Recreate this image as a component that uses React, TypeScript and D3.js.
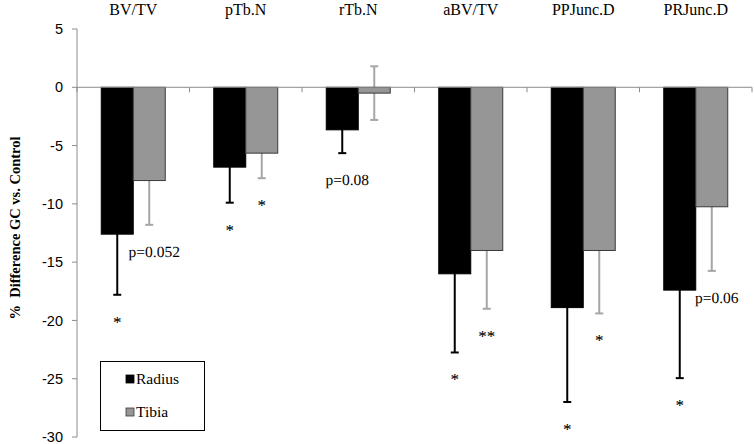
import React from "react";
import * as d3 from "d3";

const categories = ["BV/TV", "pTb.N", "rTb.N", "aBV/TV", "PPJunc.D", "PRJunc.D"];
const seriesNames = ["Radius", "Tibia"];
const radiusValues = [-12.6, -6.85, -3.65, -16.0, -18.9, -17.4];
const radiusErrors = [5.2, 3.05, 2.0, 6.75, 8.1, 7.55];
const tibiaValues = [-8.0, -5.65, -0.5, -14.0, -14.0, -10.25];
const tibiaErrors = [3.8, 2.15, 2.3, 5.0, 5.4, 5.5];
const yTicks = [5, 0, -5, -10, -15, -20, -25, -30];
// annotations: [category index, series index, label]
const annotCategory = [0, 0, 1, 1, 2, 3, 3, 4, 4, 5, 5];
const annotSeries = [0, 1, 0, 1, 0, 0, 1, 0, 1, 0, 1];
const annotLabels = ["*", "p=0.052", "*", "*", "p=0.08", "*", "**", "*", "*", "*", "p=0.06"];

const W = 754;
const H = 444;
const left = 77;
const right = 752;
const top = 29;
const bottom = 437;

export default function App() {
  const y = d3.scaleLinear().domain([5, -30]).range([top, bottom]);
  const x = d3.scaleBand<string>().domain(categories).range([left, right]).paddingInner(0).paddingOuter(0);
  const inner = d3
    .scaleBand<string>()
    .domain(seriesNames)
    .range([0, x.bandwidth()])
    .paddingInner(0)
    .paddingOuter(0.758);
  const values = [radiusValues, tibiaValues];
  const errors = [radiusErrors, tibiaErrors];
  const fills = ["#000000", "#969696"];
  const strokes = ["#000000", "#3a3a3a"];
  const errColors = ["#000000", "#a6a6a6"];
  const axisColor = "#8c8c8c";
  const serif = "'Liberation Serif', 'Times New Roman', serif";
  const sans = "'Liberation Sans', Arial, sans-serif";
  const bw = inner.bandwidth();
  const boundaries = d3.range(categories.length + 1).map((i) => left + i * x.step());

  return (
    <svg width={W} height={H} style={{ position: "absolute", left: 0, top: 0, background: "#fff" }}>
      {/* y axis */}
      <line x1={left} x2={left} y1={top} y2={bottom} stroke={axisColor} strokeWidth={1} />
      {yTicks.map((t) => (
        <g key={t}>
          <line x1={left - 5} x2={left} y1={y(t)} y2={y(t)} stroke={axisColor} />
          <text x={63} y={y(t)} dy="0.35em" textAnchor="end" fontFamily={sans} fontSize={14.5} fill="#000">
            {t}
          </text>
        </g>
      ))}
      <text
        transform={`translate(20,228) rotate(-90)`}
        textAnchor="middle"
        fontFamily={serif}
        fontWeight="bold"
        fontSize={14.5}
        fill="#000"
      >
        % &#160;Difference GC vs. Control
      </text>
      {/* category labels */}
      {categories.map((c) => (
        <text
          key={c}
          x={(x(c) as number) + x.bandwidth() / 2}
          y={15}
          textAnchor="middle"
          fontFamily={serif}
          fontSize={16}
          fill="#000"
        >
          {c}
        </text>
      ))}
      {/* error bars (behind bars) */}
      {seriesNames.map((s, si) =>
        categories.map((c, ci) => {
          const cx = (x(c) as number) + (inner(s) as number) + bw / 2;
          const v = values[si][ci];
          const e = errors[si][ci];
          const y1 = y(v + e);
          const y2 = y(v - e);
          return (
            <g key={s + c} stroke={errColors[si]} strokeWidth={2}>
              <line x1={cx} x2={cx} y1={y1} y2={y2} />
              <line x1={cx - 4} x2={cx + 4} y1={y1} y2={y1} />
              <line x1={cx - 4} x2={cx + 4} y1={y2} y2={y2} />
            </g>
          );
        })
      )}
      {/* bars */}
      {seriesNames.map((s, si) =>
        categories.map((c, ci) => {
          const bx = (x(c) as number) + (inner(s) as number);
          const v = values[si][ci];
          return (
            <rect
              key={"b" + s + c}
              x={bx}
              y={y(0)}
              width={bw}
              height={y(v) - y(0)}
              fill={fills[si]}
              stroke={strokes[si]}
              strokeWidth={1}
            />
          );
        })
      )}
      {/* zero axis */}
      <line x1={left} x2={right} y1={y(0)} y2={y(0)} stroke={axisColor} strokeWidth={1} />
      {boundaries.map((b, i) => (
        <line key={i} x1={b} x2={b} y1={y(0)} y2={y(0) + 5} stroke={axisColor} />
      ))}
      {/* annotations */}
      {annotLabels.map((lab, i) => {
        const ci = annotCategory[i];
        const si = annotSeries[i];
        const c = categories[ci];
        const s = seriesNames[si];
        const cx = (x(c) as number) + (inner(s) as number) + bw / 2;
        const end = y(values[si][ci] - errors[si][ci]);
        const isStar = lab.startsWith("*");
        return (
          <text
            key={i}
            x={isStar ? cx : cx + 5}
            y={end + (isStar ? 33 : 32)}
            textAnchor="middle"
            fontFamily={serif}
            fontSize={isStar ? 17 : 15.5}
            fill="#000"
            style={{ textRendering: "geometricPrecision" }}
          >
            {lab}
          </text>
        );
      })}
      {/* legend */}
      <rect x={100.5} y={361.5} width={104} height={69} fill="#fff" stroke="#000" strokeWidth={1} />
      {seriesNames.map((s, si) => (
        <g key={"l" + s}>
          <rect
            x={126}
            y={(si === 0 ? 379 : 412) - 4}
            width={8}
            height={8}
            fill={fills[si]}
            stroke={strokes[si]}
            strokeWidth={0.8}
          />
          <text x={136} y={si === 0 ? 379 : 412} dy="0.35em" fontFamily={serif} fontSize={15.5} fill="#000">
            {s}
          </text>
        </g>
      ))}
    </svg>
  );
}
